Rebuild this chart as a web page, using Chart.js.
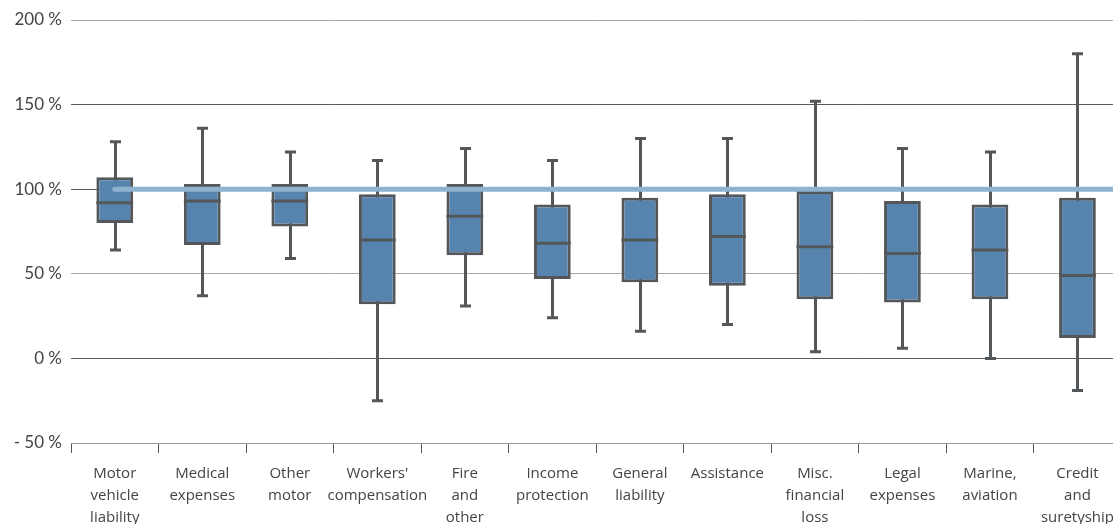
<!DOCTYPE html>
<html>
<head>
<meta charset="utf-8">
<script src="https://cdn.jsdelivr.net/npm/chart.js@4"></script>
<style>
  html, body { margin:0; padding:0; background:#fff; overflow:hidden; }
  #wrap { position:absolute; left:0; top:0; width:1124px; height:524px; }
</style>
</head>
<body>
<div id="wrap"><canvas id="box"></canvas></div>
<script>
// categories and box-plot values (combined ratio, %)
const categories = [
  ['Motor','vehicle','liability'], ['Medical','expenses'], ['Other','motor'],
  ["Workers'",'compensation'], ['Fire','and','other'], ['Income','protection'],
  ['General','liability'], ['Assistance'], ['Misc.','financial','loss'],
  ['Legal','expenses'], ['Marine,','aviation'], ['Credit','and','suretyship']
];
const whiskerLow  = [ 64,  37,  59, -25,  31,  24,  16,  20,   4,   6,   0, -19];
const quart1      = [ 80,  67,  78,  32,  61,  47,  45,  43,  35,  33,  35,  12];
const medians     = [ 92,  93,  93,  70,  84,  68,  70,  72,  66,  62,  64,  49];
const quart3      = [107, 103, 103,  97, 103,  91,  95,  97,  99,  93,  91,  95];
const whiskerHigh = [128, 136, 122, 117, 124, 117, 130, 130, 152, 124, 122, 180];
const target = 100;
const yTicks = [-50, 0, 50, 100, 150, 200];

const DARK = '#54575a';

const boxPlugin = {
  id: 'boxExtras',
  beforeDatasetsDraw(chart){
    const ctx = chart.ctx, y = chart.scales.y;
    const bars = chart.getDatasetMeta(0).data;
    ctx.save();
    ctx.strokeStyle = DARK;
    ctx.lineWidth = 3;
    bars.forEach((b, i) => {
      const x = Math.round(b.x) + 0.5;
      const yl = y.getPixelForValue(whiskerLow[i]);
      const yh = y.getPixelForValue(whiskerHigh[i]);
      ctx.beginPath();
      ctx.moveTo(x, yl); ctx.lineTo(x, yh);
      ctx.moveTo(x - 5.5, yl); ctx.lineTo(x + 5.5, yl);
      ctx.moveTo(x - 5.5, yh); ctx.lineTo(x + 5.5, yh);
      ctx.stroke();
    });
    ctx.restore();
  },
  afterDatasetsDraw(chart){
    const ctx = chart.ctx, y = chart.scales.y, area = chart.chartArea;
    const bars = chart.getDatasetMeta(0).data;
    ctx.save();
    ctx.strokeStyle = DARK;
    ctx.lineWidth = 3;
    bars.forEach((b, i) => {
      const ym = y.getPixelForValue(medians[i]);
      ctx.beginPath();
      ctx.moveTo(b.x - b.width / 2, ym); ctx.lineTo(b.x + b.width / 2, ym);
      ctx.stroke();
    });
    // target line
    const yt = y.getPixelForValue(target);
    ctx.strokeStyle = '#8fb2cf';
    ctx.lineWidth = 5;
    ctx.lineCap = 'round';
    ctx.beginPath();
    ctx.moveTo(bars[0].x, yt); ctx.lineTo(area.right + 10, yt);
    ctx.stroke();
    ctx.restore();
  }
};

new Chart(document.getElementById('box'), {
  type: 'bar',
  data: {
    labels: categories,
    datasets: [{
      data: quart1.map((q, i) => [q, quart3[i]]),
      backgroundColor: '#5784ae',
      borderColor: DARK,
      borderWidth: 3,
      borderSkipped: false,
      categoryPercentage: 1,
      barPercentage: 0.42
    }]
  },
  options: {
    responsive: true,
    maintainAspectRatio: false,
    animation: false,
    layout: { padding: { top: 20, right: 0, left: 0, bottom: 0 } },
    plugins: { legend: { display: false }, tooltip: { enabled: false } },
    scales: {
      x: {
        offset: true,
        grid: { display: true, drawOnChartArea: false, drawTicks: true, tickLength: 10, offset: true, color: DARK },
        border: { display: true, color: '#9a9a9a', width: 1 },
        ticks: {
          color: '#444', padding: 10, maxRotation: 0, autoSkip: false,
          font: { family: '"Open Sans"', size: 15, lineHeight: 1.47 }
        },
        afterFit(s){ s.height = 81; }
      },
      y: {
        min: -50, max: 200,
        afterBuildTicks(s){ s.ticks = yTicks.map(v => ({ value: v })); },
        grid: {
          drawTicks: false,
          color: c => (c.tick && (c.tick.value === 200 || c.tick.value === 50)) ? '#a8a8a8' : '#5a5a5a',
          lineWidth: 1
        },
        border: { display: false },
        ticks: {
          color: '#444', padding: 9,
          font: { family: 'Lato', size: 17 },
          callback: v => v < 0 ? '- ' + Math.abs(v) + ' %' : v + ' %'
        },
        afterFit(s){ s.width = 71; }
      }
    }
  },
  plugins: [boxPlugin]
});
</script>
</body>
</html>
